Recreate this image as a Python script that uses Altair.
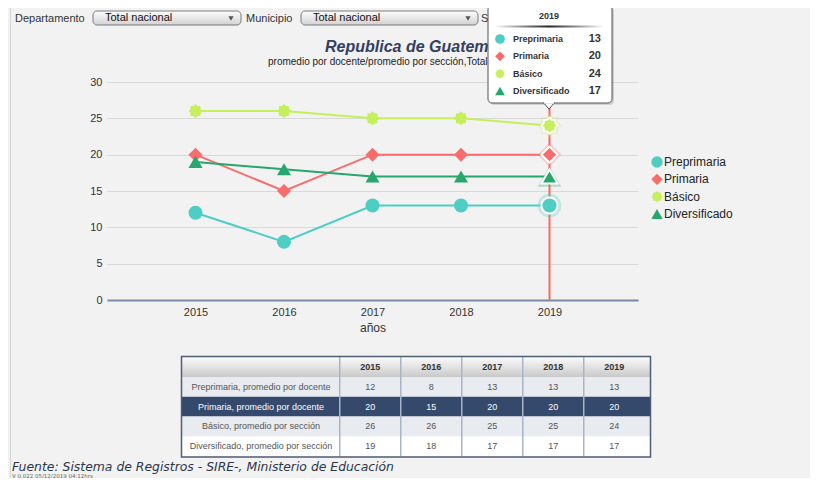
import math
import altair as alt
import pandas as pd

# ---------------- data ----------------
years = [2015, 2016, 2017, 2018, 2019]
niveles = ["Preprimaria", "Primaria", "Básico", "Diversificado"]
preprimaria = [12, 8, 13, 13, 13]
primaria = [20, 15, 20, 20, 20]
basico = [26, 26, 25, 25, 24]
diversificado = [19, 18, 17, 17, 17]
row_labels = [
    "Preprimaria, promedio por docente",
    "Primaria, promedio por docente",
    "Básico, promedio por sección",
    "Diversificado, promedio por sección",
]
colors = ["#4ecdc4", "#f96c6c", "#c6ef5e", "#27a66e"]
y_ticks = [0, 5, 10, 15, 20, 25, 30]
sel_year = 2019
sel_nivel = "Primaria"

series = [preprimaria, primaria, basico, diversificado]
records = []
for i, (n, lab, vals) in enumerate(zip(niveles, row_labels, series)):
    for yr, v in zip(years, vals):
        records.append(dict(nivel=n, label=lab, idx=i, year=yr, value=v))
df = pd.DataFrame(records)

# ---------------- layout helpers ----------------
PX0, PY0 = 107, 82          # page position of the plot origin
W, H = 531, 218             # plot area
TOTAL_W, TOTAL_H = 802, 470
FONT = "Liberation Sans"


def px(x):
    return x - PX0


def py(y):
    return y - PY0


one = pd.DataFrame({"k": [0]})


def T(txt, x, y, align="left", baseline="middle", **kw):
    return alt.Chart(one).mark_text(text=txt, align=align, baseline=baseline, **kw).encode(
        x=alt.value(px(x)), y=alt.value(py(y)))


def R(x1, y1, x2, y2, **kw):
    return alt.Chart(one).mark_rect(**kw).encode(
        x=alt.value(px(x1)), x2=alt.value(px(x2)), y=alt.value(py(y1)), y2=alt.value(py(y2)))


def P(x, y, **kw):
    return alt.Chart(one).mark_point(**kw).encode(x=alt.value(px(x)), y=alt.value(py(y)))


def vgrad(c1, c2):
    return alt.LinearGradient(gradient="linear",
                              stops=[alt.GradientStop(color=c1, offset=0), alt.GradientStop(color=c2, offset=1)],
                              x1=0, x2=0, y1=0, y2=1)


# star shape (unit coordinates)
pts = []
for i in range(16):
    a = -math.pi / 2 + i * math.pi / 8
    r = 1.0 if i % 2 == 0 else 0.78
    pts.append(f"{r * math.cos(a):.3f},{r * math.sin(a):.3f}")
STAR = "M" + "L".join(pts) + "Z"
shapes = ["circle", "diamond", STAR, "triangle-up"]

cscale = alt.Scale(domain=niveles, range=colors)
sscale = alt.Scale(domain=niveles, range=shapes)
col_no = alt.Color("nivel:N", scale=cscale, legend=None)
shp_no = alt.Shape("nivel:N", scale=sscale, legend=None)

# ---------------- main line chart ----------------
xs = alt.Scale(domain=[2014, 2020], nice=False, zero=False)
ys = alt.Scale(domain=[0, 30], nice=False)
x_axis = alt.Axis(values=years, format="d", title="años", labelPadding=6, ticks=False, grid=False,
                  domainColor="#7b8aa3", domainWidth=2, labelFont=FONT, labelFontSize=11,
                  labelColor="#333", titleFont=FONT, titleFontSize=12, titleFontWeight="normal",
                  titleColor="#333", titlePadding=5)
y_axis = alt.Axis(values=y_ticks, title=None, domain=False, ticks=False, grid=True,
                  gridColor="#d9d9d9", labelPadding=5, labelFont=FONT, labelFontSize=11,
                  labelColor="#333")
X = alt.X("year:Q", scale=xs, axis=x_axis)
Y = alt.Y("value:Q", scale=ys, axis=y_axis)

base = alt.Chart(df)
lines = base.mark_line(strokeWidth=2).encode(x=X, y=Y, color=col_no)
cross = base.transform_filter(
    (alt.datum.year == sel_year) & (alt.datum.nivel == sel_nivel)
).mark_rule(color="#f46a64", strokeWidth=2).encode(x=X, y=alt.value(py(103)), y2=alt.value(H))
pts_norm = base.transform_filter(alt.datum.year != sel_year).mark_point(
    filled=True, size=196, opacity=1).encode(x=X, y=Y, color=col_no, shape=shp_no)
halo = base.transform_filter(alt.datum.year == sel_year).mark_point(
    filled=True, size=560, opacity=0.3).encode(x=X, y=Y, color=col_no, shape=shp_no)
hl = base.transform_filter(alt.datum.year == sel_year).mark_point(
    filled=True, size=260, opacity=1, stroke="white", strokeWidth=2).encode(
    x=X, y=Y, color=col_no, shape=shp_no)
main = alt.layer(lines, cross, pts_norm, halo, hl)

# ---------------- legend (drawn from the series list) ----------------
lbase = base.transform_filter(alt.datum.year == years[0])
leg_y = alt.Y("nivel:N", scale=alt.Scale(type="point", domain=niveles, range=[py(162), py(214)], padding=0),
              axis=None)
leg_sym = lbase.mark_point(filled=True, size=130, opacity=1).encode(
    x=alt.value(px(657)), y=leg_y, color=col_no, shape=shp_no)
leg_lab = lbase.mark_text(align="left", baseline="middle", font=FONT, fontSize=12, color="#222").encode(
    x=alt.value(px(664)), y=leg_y, text="nivel:N")
legend = alt.layer(leg_sym, leg_lab)

# ---------------- tooltip contents ----------------
tip_y = alt.Y("nivel:N", scale=alt.Scale(type="point", domain=niveles, range=[py(39), py(91)], padding=0),
              axis=None)
tbase = base.transform_filter(alt.datum.year == sel_year)
tip_sym = tbase.mark_point(filled=True, size=95, opacity=1).encode(
    x=alt.value(px(500)), y=tip_y, color=col_no, shape=shp_no)
tip_lab = tbase.mark_text(align="left", baseline="middle", font=FONT, fontSize=9, fontWeight="bold",
                          color="#333").encode(x=alt.value(px(513)), y=tip_y, text="nivel:N")
tip_val = tbase.mark_text(align="right", baseline="middle", font=FONT, fontSize=11, fontWeight="bold",
                          color="#333").encode(x=alt.value(px(601)), y=tip_y, text="value:Q")
tip_year = tbase.transform_filter(alt.datum.nivel == sel_nivel).mark_text(
    align="center", baseline="middle", font=FONT, fontSize=9, fontWeight="bold", color="#333").encode(
    x=alt.value(px(549)), y=alt.value(py(16)), text=alt.Text("year:Q", format="d"))
tip = alt.layer(tip_sym, tip_lab, tip_val, tip_year)

# ---------------- table ----------------
tab_x = alt.Scale(domain=[2015, 2019], range=[px(370.25), px(614.25)], nice=False, zero=False)
tab_y = alt.Y("nivel:N", scale=alt.Scale(type="band", domain=niveles, range=[py(377), py(456)],
                                         paddingInner=0, paddingOuter=0), axis=None)
tb = base.transform_calculate(
    rowfill=f"datum.nivel == '{sel_nivel}' ? '#34496b' : (datum.idx % 2 == 0 ? '#e8ebf0' : '#ffffff')",
    txtcolor=f"datum.nivel == '{sel_nivel}' ? '#ffffff' : '#555555'",
    edge="datum.year - 0.5",
)
row_bg = tb.transform_filter(alt.datum.year == years[0]).mark_rect().encode(
    x=alt.value(px(182)), x2=alt.value(px(650)), y=tab_y, fill=alt.Fill("rowfill:N", scale=None))
col_lines = tb.transform_filter(alt.datum.nivel == niveles[0]).mark_rule(
    color="#a9b4c6", strokeWidth=1.5).encode(
    x=alt.X("edge:Q", scale=tab_x, axis=None), y=alt.value(py(357)), y2=alt.value(py(456)))
row_txt = tb.transform_filter(alt.datum.year == years[0]).mark_text(
    align="center", baseline="middle", font=FONT, fontSize=9).encode(
    x=alt.value(px(261)), y=tab_y, text="label:N", color=alt.Color("txtcolor:N", scale=None))
cell_txt = tb.mark_text(align="center", baseline="middle", font=FONT, fontSize=9).encode(
    x=alt.X("year:Q", scale=tab_x, axis=None), y=tab_y, text="value:Q",
    color=alt.Color("txtcolor:N", scale=None))
head_txt = tb.transform_filter(alt.datum.nivel == niveles[0]).mark_text(
    align="center", baseline="middle", font=FONT, fontSize=9, fontWeight="bold", color="#333").encode(
    x=alt.X("year:Q", scale=tab_x, axis=None), y=alt.value(py(367)), text=alt.Text("year:Q", format="d"))
table = alt.layer(row_bg, col_lines, row_txt, cell_txt, head_txt)

# ---------------- decorations ----------------
deco_back = [
    R(10, 0, 11, 480, fill="#d6d6d6"),
    T("Departamento", 15, 18.5, font=FONT, fontSize=11, color="#333"),
    R(93, 11, 241, 25, fill=vgrad("#fdfdfd", "#d2d2d2"), stroke="#7a7a7a", strokeWidth=1, cornerRadius=4),
    T("Total nacional", 105, 17.5, font=FONT, fontSize=11, color="#111"),
    P(231, 18.5, shape="triangle-down", size=28, filled=True, color="#555", opacity=1),
    T("Municipio", 246, 18.5, font=FONT, fontSize=11, color="#333"),
    R(301, 11, 478, 25, fill=vgrad("#fdfdfd", "#d2d2d2"), stroke="#7a7a7a", strokeWidth=1, cornerRadius=4),
    T("Total nacional", 313, 17.5, font=FONT, fontSize=11, color="#111"),
    P(468, 18.5, shape="triangle-down", size=28, filled=True, color="#555", opacity=1),
    T("Sector", 481, 18.5, font=FONT, fontSize=11, color="#333"),
    T("Republica de Guatemala", 325, 52, baseline="alphabetic", font=FONT, fontSize=16,
      fontWeight="bold", fontStyle="italic", color="#34405f"),
    T("promedio por docente/promedio por sección,Total nacional", 268, 64.5, baseline="alphabetic",
      font=FONT, fontSize=10, color="#222"),
    R(182, 357, 650, 377, fill=vgrad("#fbfbfb", "#c9c9c9")),
    T("Fuente: Sistema de Registros - SIRE-, Ministerio de Educación", 12, 470.5, baseline="alphabetic",
      font="DejaVu Sans", fontSize=12.4, fontStyle="italic", color="#2d3648"),
    T("V 0.022 05/12/2019 04:12hrs", 12, 478, baseline="alphabetic", font="DejaVu Sans", fontSize=5.5,
      color="#666"),
]
table_border = R(181.5, 356.5, 650.5, 457, fill="transparent", stroke="#4f5d75", strokeWidth=1.5)

tip_deco = [
    R(490, 7, 614, 105, fill="#000000", opacity=0.15, cornerRadius=4),
    R(488, 5, 612, 103, fill="#ffffff", stroke="#555555", strokeWidth=1, cornerRadius=4),
    P(549, 106, shape="M-1,-0.6L1,-0.6L0,0.6Z", size=110, filled=True, fill="#ffffff",
      stroke="#555555", strokeWidth=1, opacity=1),
    R(544, 101.5, 554, 103.6, fill="#ffffff"),
    alt.Chart(one).mark_rect(fill=alt.LinearGradient(
        gradient="linear",
        stops=[alt.GradientStop(color="#ffffff", offset=0), alt.GradientStop(color="#222222", offset=0.5),
               alt.GradientStop(color="#ffffff", offset=1)],
        x1=0, x2=1, y1=0, y2=0)).encode(
        x=alt.value(px(494)), x2=alt.value(px(604)), y=alt.value(py(25.5)), y2=alt.value(py(27.5))),
]

chart = alt.layer(
    *deco_back, table, table_border, main, legend, *tip_deco, tip
).resolve_scale(
    x="independent", y="independent"
).properties(
    width=W, height=H,
    padding={"left": PX0 - 8, "top": PY0 - 8, "right": TOTAL_W - (PX0 - 8) - W,
             "bottom": TOTAL_H - (PY0 - 8) - H},
    autosize=alt.AutoSizeParams(type="none"),
    background="#f2f2f2",
).configure_view(stroke=None)

chart.save("out.html", embed_options={"renderer": "svg", "actions": False})
